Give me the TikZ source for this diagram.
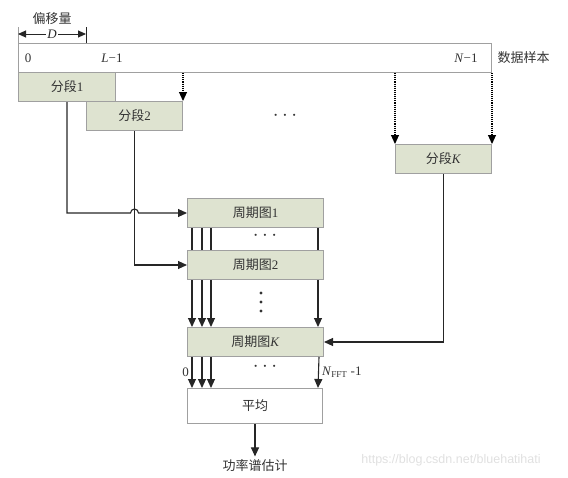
\documentclass[tikz,border=0pt]{standalone}
\usepackage{fontspec}
\setmainfont{Liberation Serif}
\newfontfamily\cjk{Noto Sans CJK SC}
\newfontfamily\wmfont{Liberation Sans}
\usepackage{xcolor}
\usepackage{tikz}
\usetikzlibrary{arrows.meta}
\definecolor{seggreen}{RGB}{222,227,208}
\definecolor{edgegray}{RGB}{160,160,160}
\newcommand{\hdots}{{\fontsize{22}{22}\selectfont$\cdots$}}

\begin{document}
\begin{tikzpicture}[x=1pt,y=-1pt,font=\fontsize{13}{15}\selectfont,text=black!80,
		blk/.style={draw=edgegray,line width=1pt,fill=seggreen,anchor=north west,minimum height=29pt,inner sep=0pt},
		seg/.style={blk,minimum width=96pt},
		pg/.style={blk,minimum width=136pt},
		tip/.style={-{Triangle[length=9pt,width=8pt]}},
		dotarrow/.style={tip,densely dotted,line width=1.1pt},
		conn/.style={black!85,line width=1.1pt}]
		\useasboundingbox (0,0) rectangle (568,477);
		\node[blk,fill=white,minimum width=473pt] (data) at (18,43) {};
		\node (d0) at (28,58) {0};
		\node (dL) at (112,58) {\textit{L}−1};
		\node (dN) at (466,58) {\textit{N}−1};
		\node[anchor=west] (samples) at (494,58) {\cjk 数据样本};
		\node[seg,minimum width=97pt] (seg1) at (18,72) {{\cjk 分段}1};
		\node[seg] (seg2) at (86,101) {{\cjk 分段}2};
		\node[seg] (segK) at (395,144) {{\cjk 分段}\textit{K}};
		\node (sdots) at (285,116) {\hdots};
		\node[pg] (pg1) at (187,198) {{\cjk 周期图}1};
		\node[pg] (pg2) at (187,250) {{\cjk 周期图}2};
		\node[pg] (pgK) at (187,327) {{\cjk 周期图}\textit{K}};
		\node[blk,fill=white,minimum width=135pt,minimum height=35pt] (avg) at (187,388) {\cjk 平均};
		\node (est) at (255,466) {\cjk 功率谱估计};
		\node (off) at (52,19) {\cjk 偏移量};
		\coordinate (offL) at (data.north west);
		\coordinate (offR) at (seg2.north west |- data.north);
		\draw[edgegray] (offL) -- ++(0,-16);
		\draw[black!85] (offR) -- ++(0,-16);
		\draw[black!85,line width=0.9pt,{Triangle[length=8pt,width=7pt]}-{Triangle[length=8pt,width=7pt]}] ([yshift=9pt]offL) -- node[fill=white,inner sep=1pt] {\textit{D}} ([yshift=9pt]offR);
		\draw[dotarrow] (seg2.north east |- data.south) -- (seg2.north east);
		\draw[dotarrow] (segK.north west |- data.south) -- (segK.north west);
		\draw[dotarrow] (segK.north east |- data.south) -- (segK.north east);
		\coordinate (hop) at (seg2.south |- pg1.west);
		\draw[conn,tip] (seg1.south) |- ([xshift=-4pt]hop) arc (180:360:4) -- (pg1.west);
		\draw[conn,tip] (seg2.south) |- (pg2.west);
		\draw[conn,tip] (segK.south) |- (pgK.east);
		\foreach \x in {5,15,24}{
			\draw[conn] ([xshift=\x pt]pg1.south west) -- ([xshift=\x pt]pg2.north west);
			\draw[conn,tip] ([xshift=\x pt]pg2.south west) -- ([xshift=\x pt]pgK.north west);
			\draw[conn,tip] ([xshift=\x pt]pgK.south west) -- ([xshift=\x pt]avg.north west);
		}
		\draw[conn] ([xshift=-6pt]pg1.south east) -- ([xshift=-6pt]pg2.north east);
		\draw[conn,tip] ([xshift=-6pt]pg2.south east) -- ([xshift=-6pt]pgK.north east);
		\draw[conn,tip] ([xshift=-5pt]pgK.south east) -- ([xshift=-5pt]avg.north east);
		\node (pdots1) at (265,236) {\hdots};
		\coordinate (pdots2) at (261,302);
		\foreach \y in {-9,0,9}
			\fill[black!80] (pdots2) ++(0,\y) circle (1.6pt);
		\node (pdots3) at (265,367) {\hdots};
		\node[anchor=east,inner sep=1pt] (b0) at ([xshift=3pt,yshift=-15pt]pgK.south west) {0};
		\node[anchor=west,inner sep=1pt] (bN) at ([xshift=-3pt,yshift=-15pt]pgK.south east) {\textit{N}\textsubscript{\fontsize{9}{9}\selectfont FFT} -1};
		\draw[conn,tip] (avg.south) -- (est.north);
		\node[text=black!12,font=\wmfont\fontsize{12.5}{14}\selectfont] (wm) at (451,460) {https://blog.csdn.net/bluehatihati};
	\end{tikzpicture}
\end{document}
